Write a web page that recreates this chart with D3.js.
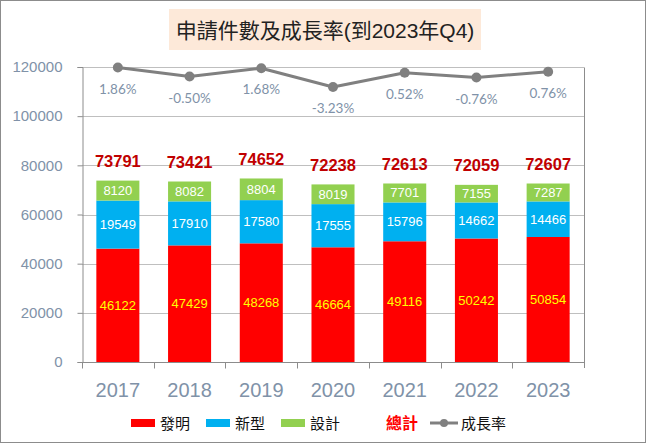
<!DOCTYPE html>
<html>
<head>
<meta charset="utf-8">
<script src="https://cdn.jsdelivr.net/npm/d3@7"></script>
<style>
  body { margin: 0; background: #fff; }
  svg { display: block; }
</style>
</head>
<body>
<div id="chart"></div>
<script>
// data
const years = ["2017", "2018", "2019", "2020", "2021", "2022", "2023"];
const invention = [46122, 47429, 48268, 46664, 49116, 50242, 50854];
const utility = [19549, 17910, 17580, 17555, 15796, 14662, 14466];
const design = [8120, 8082, 8804, 8019, 7701, 7155, 7287];
const totals = [73791, 73421, 74652, 72238, 72613, 72059, 72607];
const growth = [1.86, -0.50, 1.68, -3.23, 0.52, -0.76, 0.76];
const yTicks = [0, 20000, 40000, 60000, 80000, 100000, 120000];

const seriesKeys = ["發明", "新型", "設計"];
const seriesColors = ["#FF0000", "#00B0F0", "#92D050"];
const labelColors = ["#FFFF00", "#FFFFFF", "#FFFFFF"];

const width = 650, height = 445;
const marginTop = 67, marginRight = 66, marginBottom = 83, marginLeft = 82;
const latin = "'Liberation Sans', Arial, 'Noto Sans CJK TC', sans-serif";
const axisColor = "#8092A8";

const table = years.map((y, i) => ({
  year: y, "發明": invention[i], "新型": utility[i], "設計": design[i]
}));

const svg = d3.select("#chart").append("svg")
    .attr("width", width)
    .attr("height", height)
    .attr("viewBox", [0, 0, width, height])
    .style("font-family", latin);

// chart border
svg.append("rect")
    .attr("x", 0.5).attr("y", 0.5)
    .attr("width", 645).attr("height", 442)
    .attr("fill", "#fff")
    .attr("stroke", "#8c8c8c");

// title
svg.append("rect")
    .attr("x", 169).attr("y", 9)
    .attr("width", 312).attr("height", 41)
    .attr("fill", "#FDE9D9");
svg.append("text")
    .attr("x", 325).attr("y", 37.5)
    .attr("text-anchor", "middle")
    .attr("font-size", 21)
    .attr("fill", "#222")
    .text("申請件數及成長率(到2023年Q4)");

// scales
const x = d3.scaleBand()
    .domain(years)
    .range([marginLeft, width - marginRight])
    .paddingInner(0.4)
    .paddingOuter(0.2);

const y = d3.scaleLinear()
    .domain([0, 120000])
    .range([height - marginBottom, marginTop]);

// hidden secondary axis for the growth rate
const yg = d3.scaleLinear()
    .domain([-75, 2])
    .range([height - marginBottom, marginTop]);

// grid lines
svg.append("g")
    .attr("stroke", "#BFBFBF")
  .selectAll("line")
  .data(yTicks.slice(1))
  .join("line")
    .attr("x1", marginLeft)
    .attr("x2", width - marginRight)
    .attr("y1", d => Math.round(y(d)) + 0.5)
    .attr("y2", d => Math.round(y(d)) + 0.5);

// right border of the plot
svg.append("line")
    .attr("x1", width - marginRight + 0.5)
    .attr("x2", width - marginRight + 0.5)
    .attr("y1", Math.round(y(120000)) + 0.5)
    .attr("y2", height - marginBottom + 6)
    .attr("stroke", "#8c8c8c");

// left axis
svg.append("g")
    .attr("transform", `translate(${marginLeft + 0.5},0)`)
    .call(d3.axisLeft(y).tickValues(yTicks).tickSize(5).tickPadding(15).tickFormat(d3.format("d")))
    .call(g => g.select(".domain").attr("stroke", "#8c8c8c"))
    .call(g => g.selectAll(".tick line").attr("stroke", "#8c8c8c"))
    .call(g => g.selectAll("text")
        .attr("fill", axisColor)
        .style("font-size", "15px")
        .style("font-family", latin));

// bottom axis with ticks between categories
const baseY = Math.round(y(0)) + 0.5;
const boundary = d => Math.round(x(d) - x.step() * x.paddingOuter()) + 0.5;
svg.append("line")
    .attr("x1", marginLeft).attr("x2", width - marginRight)
    .attr("y1", baseY).attr("y2", baseY)
    .attr("stroke", "#8c8c8c");
svg.append("g")
    .attr("stroke", "#8c8c8c")
  .selectAll("line")
  .data(years)
  .join("line")
    .attr("x1", boundary)
    .attr("x2", boundary)
    .attr("y1", baseY)
    .attr("y2", baseY + 6);

svg.append("g")
  .selectAll("text")
  .data(years)
  .join("text")
    .attr("x", d => x(d) + x.bandwidth() / 2)
    .attr("y", 397)
    .attr("text-anchor", "middle")
    .attr("font-size", 20)
    .attr("fill", axisColor)
    .text(d => d);

// stacked bars
const stacked = d3.stack().keys(seriesKeys)(table);

const layers = svg.append("g")
  .selectAll("g")
  .data(stacked)
  .join("g")
    .attr("fill", (d, i) => seriesColors[i]);

layers.selectAll("rect")
  .data(d => d)
  .join("rect")
    .attr("x", d => x(d.data.year))
    .attr("y", d => y(d[1]))
    .attr("width", x.bandwidth())
    .attr("height", d => y(d[0]) - y(d[1]));

layers.selectAll("text")
  .data((d, i) => d.map(v => ({ v, i, key: d.key })))
  .join("text")
    .attr("x", d => x(d.v.data.year) + x.bandwidth() / 2)
    .attr("y", d => (y(d.v[0]) + y(d.v[1])) / 2 + 4.5)
    .attr("text-anchor", "middle")
    .attr("font-size", 13)
    .attr("fill", d => labelColors[d.i])
    .text(d => d.v.data[d.key]);

// totals
svg.append("g")
  .selectAll("text")
  .data(years)
  .join("text")
    .attr("x", d => x(d) + x.bandwidth() / 2)
    .attr("y", (d, i) => y(totals[i]) - 13.5)
    .attr("text-anchor", "middle")
    .attr("font-size", 16.5)
    .attr("font-weight", "bold")
    .attr("fill", "#C00000")
    .text((d, i) => totals[i]);

// growth line
const cx = d => x(d) + x.bandwidth() / 2;
svg.append("path")
    .datum(years)
    .attr("fill", "none")
    .attr("stroke", "#808080")
    .attr("stroke-width", 3)
    .attr("stroke-linejoin", "round")
    .attr("d", d3.line().x(cx).y((d, i) => yg(growth[i])));

svg.append("g")
    .attr("fill", "#808080")
  .selectAll("circle")
  .data(years)
  .join("circle")
    .attr("cx", cx)
    .attr("cy", (d, i) => yg(growth[i]))
    .attr("r", 5);

svg.append("g")
  .selectAll("text")
  .data(years)
  .join("text")
    .attr("x", cx)
    .attr("y", (d, i) => yg(growth[i]) + 26)
    .attr("text-anchor", "middle")
    .attr("font-family", "Lato, 'Liberation Sans', sans-serif")
    .attr("font-size", 13.5)
    .attr("fill", axisColor)
    .text((d, i) => growth[i].toFixed(2) + "%");

// legend
const legendY = 423;
const legend = svg.append("g").attr("font-size", 15);
const swatchX = [131, 206, 281];
seriesKeys.forEach((k, i) => {
  legend.append("rect")
      .attr("x", swatchX[i]).attr("y", legendY - 4)
      .attr("width", 24).attr("height", 8)
      .attr("fill", seriesColors[i]);
  legend.append("text")
      .attr("x", swatchX[i] + 29).attr("y", legendY + 5.5)
      .attr("fill", "#111")
      .text(k);
});
legend.append("text")
    .attr("x", 386).attr("y", legendY + 5.5)
    .attr("font-weight", "bold")
    .attr("font-size", 16)
    .attr("fill", "#FF0000")
    .text("總計");
legend.append("line")
    .attr("x1", 430).attr("x2", 458)
    .attr("y1", legendY).attr("y2", legendY)
    .attr("stroke", "#808080")
    .attr("stroke-width", 3);
legend.append("circle")
    .attr("cx", 444).attr("cy", legendY).attr("r", 4)
    .attr("fill", "#808080");
legend.append("text")
    .attr("x", 461).attr("y", legendY + 5.5)
    .attr("fill", "#111")
    .text("成長率");
</script>
</body>
</html>
